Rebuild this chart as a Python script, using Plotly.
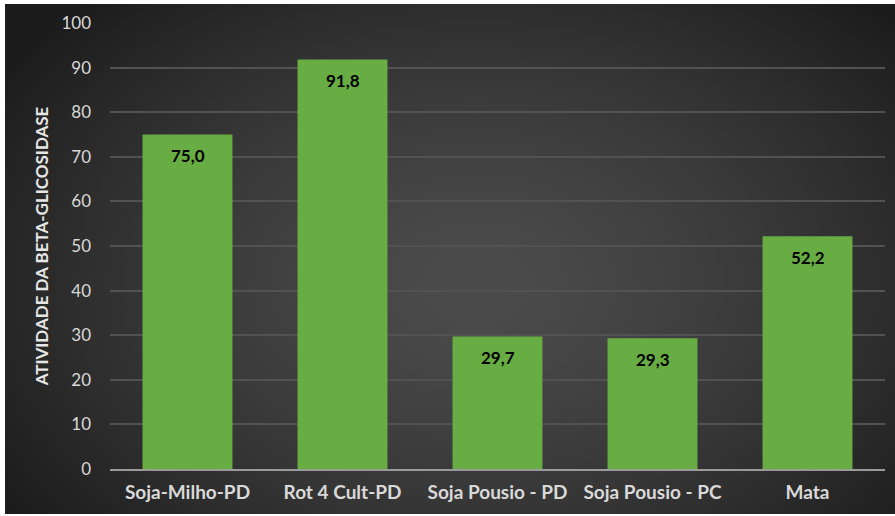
import base64
import struct
import zlib

import numpy as np
import plotly.graph_objects as go

# Beta-glucosidase activity per land-use system
categories = ["Soja-Milho-PD", "Rot 4 Cult-PD", "Soja Pousio - PD", "Soja Pousio - PC", "Mata"]
activity = [75.0, 91.8, 29.7, 29.3, 52.2]
y_ticks = [0, 10, 20, 30, 40, 50, 60, 70, 80, 90, 100]

W, H = 895, 516
ML, MR, MT, MB = 110, 10, 23, 47
PW, PH = W - ML - MR, H - MT - MB


def png_data_uri(rgb):
    """Encode an HxWx3 uint8 array as a PNG data URI."""
    h, w, _ = rgb.shape
    raw = b"".join(b"\x00" + rgb[i].tobytes() for i in range(h))

    def chunk(tag, data):
        c = struct.pack(">I", len(data)) + tag + data
        return c + struct.pack(">I", zlib.crc32(tag + data) & 0xFFFFFFFF)

    png = b"\x89PNG\r\n\x1a\n"
    png += chunk(b"IHDR", struct.pack(">IIBBBBB", w, h, 8, 2, 0, 0, 0))
    png += chunk(b"IDAT", zlib.compress(raw, 9))
    png += chunk(b"IEND", b"")
    return "data:image/png;base64," + base64.b64encode(png).decode()


# radial dark-grey backdrop, lighter toward the middle
gw, gh = 224, 129
xs = (np.arange(gw) + 0.5) / gw
ys = (np.arange(gh) + 0.5) / gh
gx, gy = np.meshgrid(xs, ys)
d = np.sqrt(((gx - 0.53) / 0.62) ** 2 + ((gy - 0.55) / 0.75) ** 2)
val = np.clip(76 - 46 * d ** 1.4, 28, 80)
bg = np.stack([val, val, val], axis=-1).astype(np.uint8)
bg_uri = png_data_uri(bg)

# backdrop placement in pixels (thin white frame on top/left)
bx0, by0, bx1, by1 = 5, 4, W, H - 2

fig = go.Figure()
fig.add_trace(go.Bar(
    x=categories,
    y=activity,
    marker=dict(color="#68ad43", line=dict(width=0)),
    width=0.58,
    hoverinfo="x+y",
))

# value labels just below the top of each bar
for cat, v in zip(categories, activity):
    fig.add_annotation(
        x=cat, y=v, xref="x", yref="y",
        text=f"{v:.1f}".replace(".", ","),
        showarrow=False,
        yanchor="middle", yshift=-21,
        font=dict(family="Lato", size=17, color="#000000", weight="bold"),
    )

fig.add_layout_image(dict(
    source=bg_uri,
    xref="paper", yref="paper",
    x=(bx0 - ML) / PW,
    y=(H - MB - by0) / PH,
    sizex=(bx1 - bx0) / PW,
    sizey=(by1 - by0) / PH,
    xanchor="left", yanchor="top",
    sizing="stretch",
    layer="below",
))

fig.update_layout(
    width=W, height=H,
    margin=dict(l=ML, r=MR, t=MT, b=MB, pad=0),
    paper_bgcolor="#ffffff",
    plot_bgcolor="rgba(0,0,0,0)",
    showlegend=False,
    font=dict(family="Lato", color="#d9d9d9"),
)
fig.update_xaxes(
    showgrid=False,
    showline=True, linecolor="#9a9a9a", linewidth=1.5,
    ticks="",
    ticklabelstandoff=5,
    tickfont=dict(family="Lato", size=19, color="#d9d9d9", weight="bold"),
)
fig.update_yaxes(
    range=[0, 100],
    tickvals=y_ticks,
    showgrid=True, gridcolor="#525252", gridwidth=1.5,
    zeroline=False,
    showline=False,
    ticks="",
    ticklabelstandoff=18,
    tickfont=dict(family="Lato", size=17, color="#d9d9d9"),
    title=dict(
        text="ATIVIDADE DA BETA-GLICOSIDASE",
        font=dict(family="Lato", size=17, color="#e6e6e6", weight="bold"),
        standoff=8,
    ),
)

fig.write_html("out.html")
